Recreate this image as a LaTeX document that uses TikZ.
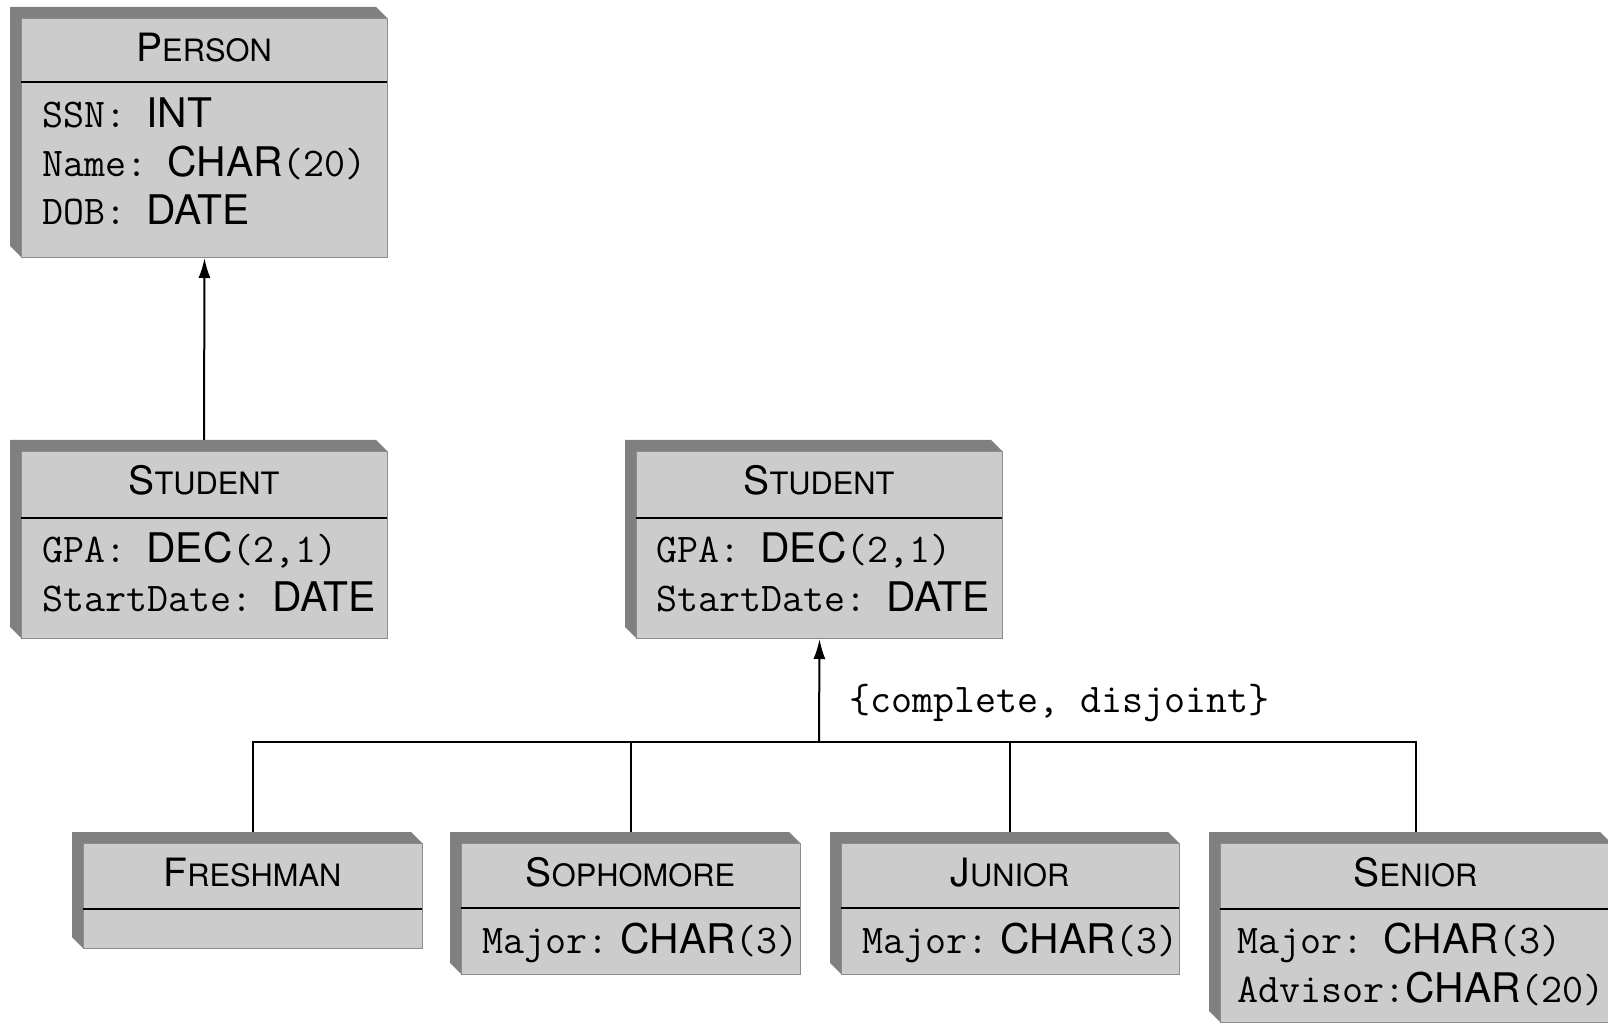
\documentclass[tikz,border=0pt]{standalone}
\usepackage{fontspec}
\setsansfont{TeX Gyre Heros}
\usetikzlibrary{arrows.meta}
\newcommand\smc[2]{#1{\fontsize{15.4pt}{18pt}\selectfont #2}}
\newcommand\gap[1][10pt]{\hspace{#1}}
\tikzset{
  band/.style={fill=black!50},
  face/.style={draw=black!45, line width=0.5pt, fill=black!20, inner sep=0pt},
  divline/.style={line width=1pt, black},
  conn/.style={line width=1pt, black},
  arr/.style={conn, -{Latex[length=10pt,width=6pt]}},
  title/.style={font=\sffamily\fontsize{19.5pt}{23pt}\selectfont, anchor=base, inner sep=0pt},
  attr/.style={font=\ttfamily\fontsize{20.4pt}{24pt}\selectfont, anchor=base west, inner sep=0pt},
}
% name, x1, y1, x2, y2, divider y
\newcommand\umlbox[6]{%
  \fill[band] (#2,#5) -- ++(-11,-11) -- (#2-11,#3-11) -- (#4-11,#3-11) -- (#4,#3) -- cycle;
  \node[face, anchor=north west, minimum width={(#4-#2)*0.5pt}, minimum height={(#5-#3)*0.5pt}] (#1) at (#2,#3) {};
  \draw[divline] (#2,#6) -- (#4,#6);
  \coordinate (#1-top) at ({(#2+#4)/2},#3-11);
}
\begin{document}
\begin{tikzpicture}[x=0.5pt,y=-0.5pt]
\useasboundingbox (0,0) rectangle (1608,1026);

% Person
\umlbox{person}{21}{18}{387}{257}{82}
\node[title] (person-t) at (204,62) {\smc{P}{ERSON}};
\node[attr] (person-a1) at (42,128) {SSN:\gap\textsf{INT}};
\node[attr] (person-a2) at (42,177) {Name:\gap\textsf{CHAR}(20)};
\node[attr] (person-a3) at (42,225) {DOB:\gap\textsf{DATE}};

% Student (left)
\umlbox{stuA}{21}{451}{387}{638}{518}
\node[title] (stuA-t) at (204,495) {\smc{S}{TUDENT}};
\node[attr] (stuA-a1) at (42,563) {GPA:\gap\textsf{DEC}(2,1)};
\node[attr] (stuA-a2) at (42,612) {StartDate:\gap\textsf{DATE}};

% Student (right)
\umlbox{stuB}{636}{451}{1002}{638}{518}
\node[title] (stuB-t) at (819,495) {\smc{S}{TUDENT}};
\node[attr] (stuB-a1) at (656,563) {GPA:\gap\textsf{DEC}(2,1)};
\node[attr] (stuB-a2) at (656,612) {StartDate:\gap\textsf{DATE}};

% Freshman
\umlbox{fresh}{83}{843}{422}{948}{909}
\node[title] (fresh-t) at (252.5,886) {\smc{F}{RESHMAN}};

% Sophomore
\umlbox{soph}{461}{843}{800}{974}{908}
\node[title] (soph-t) at (630.5,886) {\smc{S}{OPHOMORE}};
\node[attr] (soph-a1) at (482,953) {Major:\gap[6pt]\textsf{CHAR}(3)};

% Junior
\umlbox{jun}{841}{843}{1179}{974}{908}
\node[title] (jun-t) at (1010,886) {\smc{J}{UNIOR}};
\node[attr] (jun-a1) at (862,953) {Major:\gap[6pt]\textsf{CHAR}(3)};

% Senior
\umlbox{sen}{1220}{843}{1611}{1022}{909}
\node[title] (sen-t) at (1415.5,886) {\smc{S}{ENIOR}};
\node[attr] (sen-a1) at (1237,953) {Major:\gap\textsf{CHAR}(3)};
\node[attr] (sen-a2) at (1237,1002) {Advisor:\textsf{CHAR}(20)};

% connectors
\draw[arr] (stuA-top) -- (person.south);
\coordinate (bus) at (819,742);
\draw[conn] (fresh-top) |- (bus) -| (sen-top);
\draw[conn] (soph-top) -- (soph-top |- bus);
\draw[conn] (jun-top) -- (jun-top |- bus);
\draw[arr] (bus) -- (stuB.south);
\node[attr] (constraint) at (849,712) {\{complete, disjoint\}};
\end{tikzpicture}
\end{document}
